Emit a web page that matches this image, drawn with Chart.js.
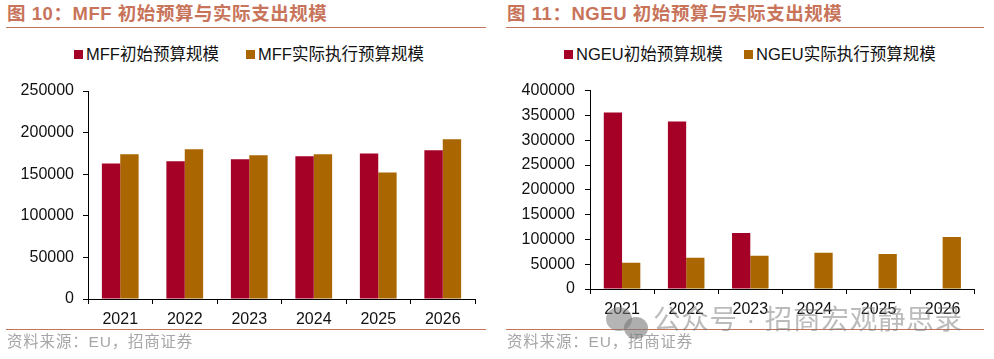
<!DOCTYPE html>
<html>
<head>
<meta charset="utf-8">
<script src="https://cdn.jsdelivr.net/npm/chart.js@4"></script>
<style>
  html, body { margin: 0; padding: 0; background: #fff; overflow: hidden; }
  body { width: 994px; height: 359px; position: relative; font-family: "Liberation Sans", "Noto Sans CJK SC", sans-serif; }
  .abs { position: absolute; white-space: nowrap; }
  .title { color: #c8745a; font-size: 18.5px; font-weight: bold; line-height: 24px; top: 2px; letter-spacing: 0.55px; }
  .rule { height: 1px; background: #c4735c; }
  .source { color: #a6a6a6; font-size: 15.5px; line-height: 20px; top: 332px; letter-spacing: 0.8px; }
  .legend { color: #111; font-size: 16.5px; line-height: 20px; top: 44px; }
  .legend i { display: inline-block; width: 9px; height: 9px; margin-right: 3px; vertical-align: 1px; }
  canvas { position: absolute; top: 71px; }
  .mark { color: rgba(120, 120, 120, 0.5); font-size: 27.5px; line-height: 32px; top: 304px; left: 653px; letter-spacing: 0.8px; }
</style>
</head>
<body>
  <div class="abs title" style="left:7px">图 10：MFF 初始预算与实际支出规模</div>
  <div class="abs rule" style="left:6px;width:480px;top:27px"></div>
  <div class="abs legend" style="left:74px"><i id="mffKey1"></i><span id="mffName1"></span></div>
  <div class="abs legend" style="left:246px"><i id="mffKey2"></i><span id="mffName2"></span></div>
  <canvas id="mffChart" width="497" height="260" style="left:0;width:497px;height:260px"></canvas>
  <div class="abs rule" style="left:6px;width:480px;top:329px"></div>
  <div class="abs source" style="left:7px">资料来源：EU，招商证券</div>

  <div class="abs title" style="left:507px">图 11：NGEU 初始预算与实际支出规模</div>
  <div class="abs rule" style="left:506px;width:478px;top:27px"></div>
  <div class="abs legend" style="left:564px"><i id="ngeuKey1"></i><span id="ngeuName1"></span></div>
  <div class="abs legend" style="left:744px"><i id="ngeuKey2"></i><span id="ngeuName2"></span></div>
  <canvas id="ngeuChart" width="497" height="260" style="left:497px;width:497px;height:260px"></canvas>
  <div class="abs rule" style="left:506px;width:478px;top:329px"></div>
  <div class="abs source" style="left:507px">资料来源：EU，招商证券</div>

  <svg class="abs" style="left:604px;top:304px" width="46" height="36">
    <ellipse cx="15" cy="15" rx="13" ry="12" fill="rgba(120,120,120,0.55)"/>
    <ellipse cx="32" cy="24" rx="12" ry="11" fill="rgba(120,120,120,0.6)"/>
  </svg>
  <div class="abs mark">公众号 · 招商宏观静思录</div>

<script>
const years = ['2021', '2022', '2023', '2024', '2025', '2026'];

const mffLabels = ['MFF初始预算规模', 'MFF实际执行预算规模'];
const mffInitial = [163000, 165500, 168000, 171500, 175000, 178700];
const mffActual = [174000, 180000, 172700, 174000, 152000, 192000];
const mffTicks = [0, 50000, 100000, 150000, 200000, 250000];

const ngeuLabels = ['NGEU初始预算规模', 'NGEU实际执行预算规模'];
const ngeuInitial = [355800, 337800, 113000, null, null, null];
const ngeuActual = [52800, 62800, 66800, 72900, 70800, 105000];
const ngeuTicks = [0, 50000, 100000, 150000, 200000, 250000, 300000, 350000, 400000];

const red = '#a50026';
const orange = '#aa6600';
const axisFont = { family: '"Liberation Sans", "Noto Sans CJK SC", sans-serif', size: 16 };

function drawChart(id, labels, first, second, ticks, box) {
  new Chart(document.getElementById(id).getContext('2d'), {
    type: 'bar',
    data: {
      labels: years,
      datasets: [
        { label: labels[0], data: first, backgroundColor: red, barPercentage: 1, categoryPercentage: 0.57 },
        { label: labels[1], data: second, backgroundColor: orange, barPercentage: 1, categoryPercentage: 0.57 }
      ]
    },
    options: {
      responsive: false,
      animation: false,
      layout: { padding: { left: 0, right: box.right, top: box.top, bottom: 0 } },
      plugins: { legend: { display: false }, tooltip: { enabled: false } },
      scales: {
        x: {
          afterFit: scale => { scale.height = box.xHeight; },
          border: { color: '#000', width: 1 },
          grid: { drawOnChartArea: false, offset: true, color: '#000', tickLength: 5 },
          ticks: { color: '#111', font: axisFont, padding: box.xPad, maxRotation: 0 }
        },
        y: {
          min: 0,
          max: ticks[ticks.length - 1],
          afterFit: scale => { scale.width = box.yWidth; },
          afterBuildTicks: scale => { scale.ticks = ticks.map(v => ({ value: v })); },
          border: { color: '#000', width: 1 },
          grid: { drawOnChartArea: false, color: '#000', tickLength: 5 },
          ticks: { color: '#111', font: axisFont, padding: box.yPad, callback: v => String(v) }
        }
      }
    }
  });
}

document.getElementById('mffKey1').style.background = red;
document.getElementById('mffKey2').style.background = orange;
document.getElementById('ngeuKey1').style.background = red;
document.getElementById('ngeuKey2').style.background = orange;
document.getElementById('mffName1').textContent = mffLabels[0];
document.getElementById('mffName2').textContent = mffLabels[1];
document.getElementById('ngeuName1').textContent = ngeuLabels[0];
document.getElementById('ngeuName2').textContent = ngeuLabels[1];

drawChart('mffChart', mffLabels, mffInitial, mffActual, mffTicks, { right: 22, top: 20, xHeight: 32, yWidth: 88, xPad: 6, yPad: 9 });
drawChart('ngeuChart', ngeuLabels, ngeuInitial, ngeuActual, ngeuTicks, { right: 19.3, top: 18, xHeight: 42, yWidth: 93, xPad: 6, yPad: 10 });
</script>
</body>
</html>
